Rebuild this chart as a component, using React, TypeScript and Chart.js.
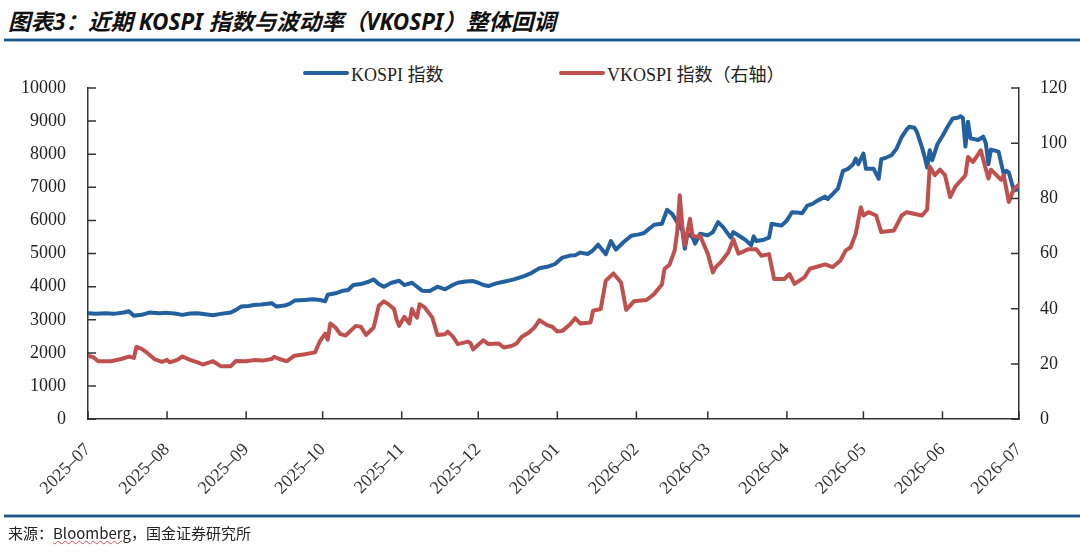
import { useEffect, useRef } from "react"
import { Chart, registerables, type ChartConfiguration, type Plugin } from "chart.js"

Chart.register(...registerables)

// x axis month labels
const monthLabels = [
  "2025-07", "2025-08", "2025-09", "2025-10", "2025-11", "2025-12", "2026-01",
  "2026-02", "2026-03", "2026-04", "2026-05", "2026-06", "2026-07",
]

const kospiDates = [
  "2025-07-01", "2025-07-04", "2025-07-08", "2025-07-11", "2025-07-15", "2025-07-17", "2025-07-19",
  "2025-07-22", "2025-07-25", "2025-07-29", "2025-08-01", "2025-08-04", "2025-08-07", "2025-08-10",
  "2025-08-13", "2025-08-16", "2025-08-19", "2025-08-22", "2025-08-26", "2025-08-28", "2025-08-30",
  "2025-09-02", "2025-09-04", "2025-09-07", "2025-09-11", "2025-09-13", "2025-09-16", "2025-09-18",
  "2025-09-20", "2025-09-24", "2025-09-27", "2025-09-30", "2025-10-02", "2025-10-03", "2025-10-06",
  "2025-10-09", "2025-10-11", "2025-10-13", "2025-10-16", "2025-10-19", "2025-10-21", "2025-10-23",
  "2025-10-25", "2025-10-28", "2025-10-31", "2025-11-02", "2025-11-05", "2025-11-07", "2025-11-09",
  "2025-11-12", "2025-11-15", "2025-11-18", "2025-11-21", "2025-11-23", "2025-11-26", "2025-11-29",
  "2025-12-01", "2025-12-03", "2025-12-05", "2025-12-08", "2025-12-11", "2025-12-15", "2025-12-19",
  "2025-12-22", "2025-12-25", "2025-12-28", "2025-12-31", "2026-01-03", "2026-01-06", "2026-01-08",
  "2026-01-10", "2026-01-13", "2026-01-15", "2026-01-17", "2026-01-20", "2026-01-22", "2026-01-24",
  "2026-01-27", "2026-01-30", "2026-02-02", "2026-02-04", "2026-02-06", "2026-02-08", "2026-02-11",
  "2026-02-13", "2026-02-15", "2026-02-17", "2026-02-19", "2026-02-20", "2026-02-21", "2026-02-23",
  "2026-02-24", "2026-02-26", "2026-03-01", "2026-03-03", "2026-03-05", "2026-03-07", "2026-03-10",
  "2026-03-11", "2026-03-14", "2026-03-16", "2026-03-18", "2026-03-19", "2026-03-20", "2026-03-23",
  "2026-03-25", "2026-03-26", "2026-03-28", "2026-03-30", "2026-04-01", "2026-04-03", "2026-04-05",
  "2026-04-07", "2026-04-09", "2026-04-11", "2026-04-13", "2026-04-16", "2026-04-17", "2026-04-19",
  "2026-04-21", "2026-04-23", "2026-04-25", "2026-04-27", "2026-04-28", "2026-04-29", "2026-05-01",
  "2026-05-02", "2026-05-05", "2026-05-07", "2026-05-08", "2026-05-10", "2026-05-12", "2026-05-14",
  "2026-05-16", "2026-05-18", "2026-05-19", "2026-05-21", "2026-05-22", "2026-05-24", "2026-05-25",
  "2026-05-26", "2026-05-27", "2026-05-28", "2026-05-30", "2026-06-01", "2026-06-03", "2026-06-05",
  "2026-06-07", "2026-06-08", "2026-06-09", "2026-06-10", "2026-06-11", "2026-06-12", "2026-06-15",
  "2026-06-17", "2026-06-18", "2026-06-19", "2026-06-20", "2026-06-22", "2026-06-23", "2026-06-25",
  "2026-06-26", "2026-06-27", "2026-06-29", "2026-07-01",
]

const kospiValues = [
  3200, 3180, 3200, 3180, 3220, 3260, 3120,
  3150, 3220, 3200, 3210, 3190, 3150, 3190,
  3200, 3170, 3140, 3180, 3220, 3300, 3400,
  3420, 3450, 3460, 3500, 3400, 3430, 3480,
  3580, 3600, 3620, 3600, 3560, 3760, 3800,
  3880, 3900, 4050, 4080, 4150, 4220, 4080,
  4000, 4120, 4180, 4050, 4120, 4000, 3880,
  3870, 4000, 3920, 4050, 4120, 4160, 4170,
  4120, 4050, 4020, 4100, 4150, 4220, 4320,
  4420, 4560, 4600, 4680, 4880, 4940, 4950,
  5030, 4990, 5100, 5270, 4980, 5380, 5120,
  5350, 5540, 5580, 5620, 5750, 5870, 5900,
  6320, 6200, 5950, 5700, 5150, 5600, 5500,
  5300, 5600, 5550, 5650, 5950, 5800, 5480,
  5650, 5500, 5400, 5250, 5520, 5380, 5420,
  5480, 5900, 5870, 5850, 6000, 6250, 6240,
  6220, 6450, 6500, 6600, 6720, 6650, 6800,
  6960, 7500, 7560, 7700, 7870, 7700, 8020,
  7560, 7560, 7260, 7850, 7900, 7970, 8170,
  8520, 8750, 8830, 8800, 8670, 8200, 7920,
  7600, 8120, 7820, 8300, 8550, 8830, 9080,
  9100, 9150, 9100, 8230, 8980, 8480, 8430,
  8530, 8330, 7700, 8140, 8100, 8070, 7400,
  7500, 7450, 6900, 6950,
]

const vkospiDates = [
  "2025-07-01", "2025-07-03", "2025-07-05", "2025-07-10", "2025-07-14", "2025-07-17", "2025-07-19",
  "2025-07-20", "2025-07-22", "2025-07-24", "2025-07-27", "2025-07-30", "2025-08-01", "2025-08-02",
  "2025-08-05", "2025-08-07", "2025-08-10", "2025-08-13", "2025-08-15", "2025-08-19", "2025-08-22",
  "2025-08-26", "2025-08-28", "2025-09-01", "2025-09-04", "2025-09-08", "2025-09-11", "2025-09-12",
  "2025-09-14", "2025-09-17", "2025-09-20", "2025-09-24", "2025-09-28", "2025-09-30", "2025-10-02",
  "2025-10-03", "2025-10-04", "2025-10-06", "2025-10-08", "2025-10-10", "2025-10-14", "2025-10-16",
  "2025-10-18", "2025-10-21", "2025-10-23", "2025-10-25", "2025-10-27", "2025-10-29", "2025-10-30",
  "2025-10-31", "2025-11-02", "2025-11-04", "2025-11-05", "2025-11-06", "2025-11-07", "2025-11-08",
  "2025-11-10", "2025-11-13", "2025-11-15", "2025-11-18", "2025-11-19", "2025-11-21", "2025-11-23",
  "2025-11-27", "2025-11-28", "2025-11-29", "2025-12-01", "2025-12-03", "2025-12-05", "2025-12-09",
  "2025-12-11", "2025-12-14", "2025-12-16", "2025-12-18", "2025-12-21", "2025-12-23", "2025-12-25",
  "2025-12-28", "2025-12-30", "2026-01-01", "2026-01-03", "2026-01-06", "2026-01-08", "2026-01-10",
  "2026-01-14", "2026-01-15", "2026-01-18", "2026-01-20", "2026-01-23", "2026-01-26", "2026-01-28",
  "2026-01-31", "2026-02-05", "2026-02-08", "2026-02-11", "2026-02-12", "2026-02-14", "2026-02-16",
  "2026-02-17", "2026-02-18", "2026-02-19", "2026-02-20", "2026-02-22", "2026-02-23", "2026-02-25",
  "2026-02-26", "2026-03-01", "2026-03-03", "2026-03-04", "2026-03-06", "2026-03-09", "2026-03-11",
  "2026-03-13", "2026-03-17", "2026-03-20", "2026-03-22", "2026-03-25", "2026-03-27", "2026-03-31",
  "2026-04-02", "2026-04-04", "2026-04-08", "2026-04-10", "2026-04-16", "2026-04-19", "2026-04-22",
  "2026-04-24", "2026-04-26", "2026-04-28", "2026-04-30", "2026-05-01", "2026-05-03", "2026-05-06",
  "2026-05-08", "2026-05-13", "2026-05-16", "2026-05-18", "2026-05-24", "2026-05-26", "2026-05-27",
  "2026-05-29", "2026-05-31", "2026-06-02", "2026-06-04", "2026-06-06", "2026-06-10", "2026-06-11",
  "2026-06-13", "2026-06-16", "2026-06-19", "2026-06-20", "2026-06-24", "2026-06-25", "2026-06-27",
  "2026-06-29", "2026-07-01",
]

const vkospiValues = [
  23, 22.5, 21, 21, 21.8, 22.7, 22.2,
  26.2, 25.5, 24.2, 21.8, 20.8, 21.5, 20.6,
  21.5, 22.7, 21.5, 20.6, 19.8, 21, 19.2,
  19.2, 21.1, 21, 21.4, 21.3, 21.8, 22.6,
  21.8, 21, 23, 23.5, 24.2, 28.4, 31,
  28.8, 34.7, 33.2, 30.8, 30.3, 33.8, 33.5,
  30.5, 33.2, 41.1, 42.7, 41.5, 39.9, 36,
  33.8, 37.1, 34.7, 39.9, 38, 36.8, 41.7,
  40.5, 36.8, 30.5, 30.8, 31.7, 30, 27.2,
  28.1, 27.5, 25.3, 27, 28.6, 27.2, 27.4,
  26, 26.5, 27.4, 29.8, 31.5, 33.2, 35.9,
  34.1, 33.5, 31.8, 32, 34.4, 36.6, 34.7,
  35, 39.3, 39.9, 50.2, 52.8, 49.5, 39.6,
  42.7, 43.2, 45.4, 48.8, 54.4, 56, 61.1,
  67.8, 81.1, 70, 62.9, 72.6, 66.5, 66,
  66.5, 59.9, 53.2, 55, 56.8, 60.4, 65.2,
  60, 61.6, 61.6, 59.2, 59.8, 50.8, 50.8,
  52.6, 49, 51.5, 54.5, 56.1, 55.1, 57.5,
  61.1, 62.3, 67.2, 76.8, 73.8, 75, 73.8,
  67.8, 68.4, 73.8, 75, 73.8, 76, 91.6,
  88.4, 90.4, 88.4, 80.5, 84.2, 88.4, 95,
  93.2, 97.4, 87.2, 90.4, 86.7, 88.4, 78.7,
  83.5, 85,
]

const BLUE = "#22609f"
const RED = "#c0504d"
const AXIS = "#333333"
const SERIF = "'Liberation Serif', 'Noto Sans CJK SC', serif"

const START = Date.parse("2025-07-01T00:00:00Z")
const dayOf = (s: string) => (Date.parse(s + "T00:00:00Z") - START) / 86400000

// ticks drawn inward from each axis line
const innerTicks: Plugin = {
  id: "innerTicks",
  afterDraw(chart) {
    const { ctx, chartArea } = chart
    const { x, y, y1 } = chart.scales
    ctx.save()
    ctx.strokeStyle = AXIS
    ctx.lineWidth = 1.5
    ctx.beginPath()
    x.ticks.forEach((t) => {
      const px = x.getPixelForValue(t.value)
      ctx.moveTo(px, chartArea.bottom)
      ctx.lineTo(px, chartArea.bottom - 8)
    })
    y.ticks.forEach((t) => {
      const py = y.getPixelForValue(t.value)
      ctx.moveTo(chartArea.left, py)
      ctx.lineTo(chartArea.left + 8, py)
    })
    y1.ticks.forEach((t) => {
      const py = y1.getPixelForValue(t.value)
      ctx.moveTo(chartArea.right, py)
      ctx.lineTo(chartArea.right - 8, py)
    })
    ctx.stroke()
    ctx.restore()
  },
}

export default function App() {
  const canvasRef = useRef<HTMLCanvasElement>(null)

  useEffect(() => {
    if (!canvasRef.current) return
    const tickFont = { family: SERIF, size: 18 }

    const config: ChartConfiguration<"line"> = {
      type: "line",
      data: {
        datasets: [
          {
            label: "VKOSPI 指数（右轴）",
            data: vkospiDates.map((d, i) => ({ x: dayOf(d), y: vkospiValues[i] })),
            borderColor: RED,
            borderWidth: 4,
            pointRadius: 0,
            tension: 0,
            borderJoinStyle: "round",
            borderCapStyle: "round",
            yAxisID: "y1",
          },
          {
            label: "KOSPI 指数",
            data: kospiDates.map((d, i) => ({ x: dayOf(d), y: kospiValues[i] })),
            borderColor: BLUE,
            borderWidth: 4,
            pointRadius: 0,
            tension: 0,
            borderJoinStyle: "round",
            borderCapStyle: "round",
            yAxisID: "y",
          },
        ],
      },
      options: {
        responsive: true,
        maintainAspectRatio: false,
        animation: false,
        layout: { padding: { top: 28, left: 7, right: 0, bottom: 14 } },
        plugins: { legend: { display: false }, tooltip: { enabled: false } },
        scales: {
          x: {
            type: "linear",
            min: 0,
            max: dayOf("2026-07-01"),
            grid: { display: false },
            border: { display: true, color: AXIS, width: 1.5 },
            afterBuildTicks: (axis) => {
              axis.ticks = monthLabels.map((m) => ({ value: dayOf(m + "-01") }))
            },
            ticks: {
              autoSkip: false,
              minRotation: 45,
              maxRotation: 45,
              padding: 12,
              color: "#333",
              font: tickFont,
              // the source draws the month separator as a long dash
              callback: (_v, i) => monthLabels[i].replace("-", "–"),
            },
          },
          y: {
            position: "left",
            min: 0,
            max: 10000,
            grid: { display: false },
            border: { display: true, color: AXIS, width: 1.5 },
            ticks: { stepSize: 1000, padding: 14, color: "#222", font: tickFont, callback: (v) => String(v) },
          },
          y1: {
            position: "right",
            min: 0,
            max: 120,
            grid: { display: false },
            border: { display: true, color: AXIS, width: 1.5 },
            ticks: { stepSize: 20, padding: 13, color: "#222", font: tickFont, callback: (v) => String(v) },
          },
        },
      },
      plugins: [innerTicks],
    }

    const chart = new Chart(canvasRef.current, config)
    return () => chart.destroy()
  }, [])

  const rule = (top: number) => (
    <div
      style={{
        position: "absolute",
        left: 4,
        right: 0,
        top,
        height: 2,
        background: "#1f5480",
        boxShadow: "0 1px 0 #9cc0dc, 0 -1px 0 #9cc0dc",
      }}
    />
  )

  const legendItem = (left: number, color: string, text: string) => (
    <div style={{ position: "absolute", left, top: 62, height: 22, display: "flex", alignItems: "center" }}>
      <div style={{ width: 46, height: 4, borderRadius: 2, background: color }} />
      <span style={{ marginLeft: 2, fontFamily: SERIF, fontSize: 18, color: "#222", whiteSpace: "nowrap" }}>{text}</span>
    </div>
  )

  return (
    <div
      style={{
        position: "fixed",
        left: 0,
        top: 0,
        width: 1080,
        height: 556,
        background: "#fff",
        overflow: "hidden",
      }}
    >
      <div
        style={{
          position: "absolute",
          left: 8,
          top: 4,
          fontFamily: "'Noto Sans', 'Noto Sans CJK SC', sans-serif",
          fontWeight: 700,
          fontStyle: "italic",
          fontSize: 22.5,
          color: "#111",
          whiteSpace: "nowrap",
        }}
      >
        图表3：近期 KOSPI 指数与波动率（VKOSPI）整体回调
      </div>
      {rule(39)}
      {legendItem(303, BLUE, "KOSPI 指数")}
      {legendItem(559, RED, "VKOSPI 指数（右轴）")}
      <div style={{ position: "absolute", left: 0, top: 60, width: 1080, height: 465 }}>
        <canvas ref={canvasRef} />
      </div>
      {rule(515)}
      <div
        style={{
          position: "absolute",
          left: 8,
          top: 522,
          fontFamily: "'Noto Sans CJK SC', sans-serif",
          fontSize: 15,
          color: "#222",
          whiteSpace: "nowrap",
        }}
      >
        来源：
        <span style={{ textDecoration: "underline wavy #e05050", textDecorationThickness: 1 }}>Bloomberg</span>
        ，国金证券研究所
      </div>
    </div>
  )
}
